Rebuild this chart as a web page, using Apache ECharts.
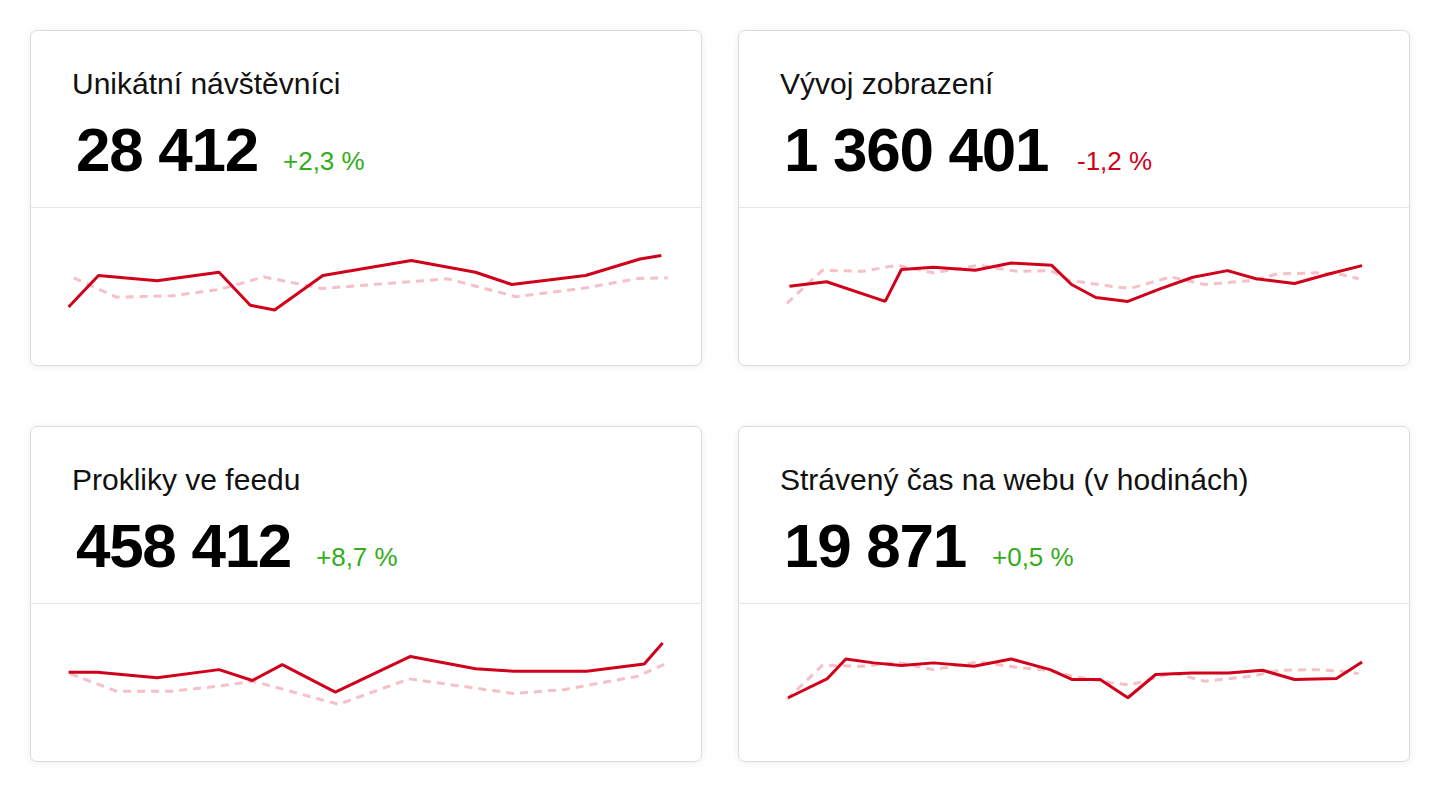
<!DOCTYPE html>
<html>
<head>
<meta charset="utf-8">
<script src="https://cdn.jsdelivr.net/npm/echarts@6/dist/echarts.min.js"></script>
<style>
  html, body { margin: 0; padding: 0; background: #ffffff; width: 1440px; height: 792px; overflow: hidden; }
  body { font-family: "Liberation Sans", Arial, sans-serif; }
  .card { position: absolute; width: 672px; height: 336px; box-sizing: border-box;
          background: #fff; border: 1px solid #dcdcdc; border-radius: 7px;
          box-shadow: 0 1px 9px rgba(0,0,0,0.07); }
  .title { position: absolute; left: 41px; top: 36px; font-size: 30px; color: #111; white-space: nowrap; }
  .value { position: absolute; left: 45px; top: 83px; font-size: 62px; font-weight: bold; color: #000; white-space: nowrap; letter-spacing: -1.3px; }
  .delta { position: absolute; top: 115px; font-size: 26px; white-space: nowrap; }
  .up { color: #33ad1a; }
  .down { color: #d0021b; }
  .sep { position: absolute; left: 0; right: 0; top: 176px; height: 0; border-top: 1.5px solid #e6e6e6; }
  .chart { position: absolute; left: 0; top: 177px; width: 670px; height: 157px; }
</style>
</head>
<body>
<div class="card" style="left:30px;top:30px;">
  <div class="title">Unikátní návštěvníci</div>
  <div class="value">28 412</div>
  <div class="delta up" style="left:252px;">+2,3 %</div>
  <div class="sep"></div>
  <div class="chart" id="c1"></div>
</div>
<div class="card" style="left:738px;top:30px;">
  <div class="title">Vývoj zobrazení</div>
  <div class="value">1 360 401</div>
  <div class="delta down" style="left:338px;">-1,2 %</div>
  <div class="sep"></div>
  <div class="chart" id="c2"></div>
</div>
<div class="card" style="left:30px;top:426px;">
  <div class="title">Prokliky ve feedu</div>
  <div class="value">458 412</div>
  <div class="delta up" style="left:285px;">+8,7 %</div>
  <div class="sep"></div>
  <div class="chart" id="c3"></div>
</div>
<div class="card" style="left:738px;top:426px;">
  <div class="title">Strávený čas na webu (v hodinách)</div>
  <div class="value">19 871</div>
  <div class="delta up" style="left:253px;">+0,5 %</div>
  <div class="sep"></div>
  <div class="chart" id="c4"></div>
</div>
<script>
// x: position within the period (% of card width), y: relative level (% of chart height)
const visitorsX = [5.61, 10.07, 18.81, 28.07, 32.72, 36.35, 43.56, 56.77, 66.34, 71.76, 82.78, 90.89, 94.08];
const visitorsY = [36.9, 57.0, 53.6, 59.1, 38.0, 35.0, 57.0, 66.6, 59.1, 51.3, 57.0, 67.5, 69.8];
const visitorsPrevX = [6.38, 12.75, 21.04, 28.07, 34.76, 43.38, 62.19, 72.40, 82.92, 90.58, 95.03];
const visitorsPrevY = [55.5, 43.2, 44.1, 48.1, 56.1, 48.7, 54.9, 43.5, 49.2, 55.1, 55.5];

const viewsX = [7.53, 13.08, 21.82, 24.24, 29.02, 35.27, 40.63, 46.68, 49.63, 53.26, 58.04, 62.83, 67.74, 72.90, 77.17, 82.92, 88.02, 92.99];
const viewsY = [50.2, 53.0, 40.5, 60.8, 62.2, 60.3, 65.0, 63.5, 51.3, 43.0, 40.5, 48.5, 55.9, 60.1, 54.9, 51.9, 58.0, 63.3];
const viewsPrevX = [7.14, 12.44, 18.50, 23.60, 29.02, 35.71, 41.46, 46.56, 49.43, 55.49, 58.36, 64.42, 69.52, 76.55, 80.37, 86.12, 89.94, 92.49];
const viewsPrevY = [39.2, 60.3, 59.7, 63.5, 58.7, 63.5, 59.7, 60.1, 53.8, 50.2, 48.7, 56.1, 51.3, 53.8, 58.0, 58.7, 57.6, 54.9];

const clicksX = [5.61, 9.88, 18.81, 28.07, 33.04, 37.50, 45.42, 56.64, 66.34, 72.07, 82.92, 91.53, 94.27];
const clicksY = [56.5, 56.5, 53.0, 58.2, 51.3, 61.4, 43.9, 66.6, 58.7, 57.2, 57.2, 61.8, 75.1];
const clicksPrevX = [5.86, 12.75, 21.04, 28.07, 33.17, 45.92, 56.44, 72.07, 79.73, 90.58, 95.03];
const clicksPrevY = [55.5, 44.5, 44.5, 47.7, 50.8, 36.1, 52.3, 43.0, 45.6, 54.0, 62.5];

const timeX = [7.34, 13.20, 15.95, 20.09, 24.24, 29.02, 35.07, 40.63, 46.43, 49.75, 53.90, 58.04, 62.19, 67.62, 73.04, 78.14, 82.92, 89.17, 92.99];
const timeY = [40.3, 52.5, 65.0, 62.5, 60.8, 62.5, 60.3, 65.0, 58.2, 51.9, 51.9, 40.3, 55.1, 56.1, 56.1, 57.8, 51.9, 52.5, 63.1];
const timePrevX = [7.14, 12.44, 18.50, 23.60, 29.02, 35.71, 41.46, 46.56, 49.75, 55.49, 58.36, 64.75, 69.52, 76.55, 80.68, 86.12, 89.94, 92.49];
const timePrevY = [39.2, 60.9, 60.3, 62.8, 58.2, 63.1, 59.7, 57.6, 54.0, 49.9, 48.4, 56.2, 50.8, 54.0, 57.8, 58.2, 57.1, 55.7];

function zip(xs, ys) { return xs.map((x, i) => [x, ys[i]]); }

function sparkline(id, curX, curY, prevX, prevY) {
  const chart = echarts.init(document.getElementById(id), null, { renderer: 'canvas' });
  chart.setOption({
    animation: false,
    grid: { left: 0, right: 0, top: 0, bottom: 0 },
    xAxis: { type: 'value', min: 0, max: 100, show: false },
    yAxis: { type: 'value', min: 0, max: 100, show: false },
    series: [
      { type: 'line', data: zip(prevX, prevY), symbol: 'none', z: 1,
        lineStyle: { color: '#f5c0c7', width: 3, type: [8, 6] } },
      { type: 'line', data: zip(curX, curY), symbol: 'none', z: 2,
        lineStyle: { color: '#d0021b', width: 3 } }
    ]
  });
}
sparkline('c1', visitorsX, visitorsY, visitorsPrevX, visitorsPrevY);
sparkline('c2', viewsX, viewsY, viewsPrevX, viewsPrevY);
sparkline('c3', clicksX, clicksY, clicksPrevX, clicksPrevY);
sparkline('c4', timeX, timeY, timePrevX, timePrevY);
</script>
</body>
</html>
